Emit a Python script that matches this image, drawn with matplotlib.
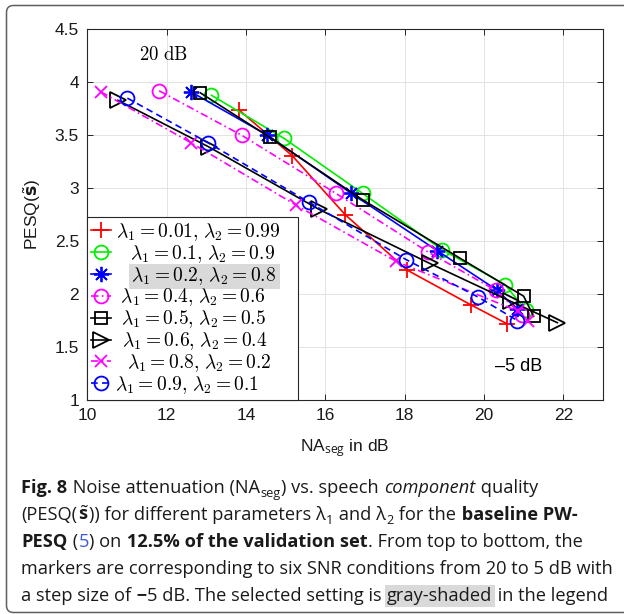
import matplotlib
matplotlib.use("Agg")
import matplotlib.pyplot as plt
from matplotlib.font_manager import FontProperties
from matplotlib.patches import FancyBboxPatch
from matplotlib.path import Path
from matplotlib.transforms import IdentityTransform

# ---------------- data ----------------
x_ticks = [10, 12, 14, 16, 18, 20, 22]
y_ticks = [1, 1.5, 2, 2.5, 3, 3.5, 4, 4.5]
y_tick_labels = ["1", "1.5", "2", "2.5", "3", "3.5", "4", "4.5"]

na_001 = [13.82, 15.17, 16.50, 18.07, 19.66, 20.58]
pesq_001 = [3.74, 3.305, 2.75, 2.225, 1.90, 1.72]
na_01 = [13.13, 14.96, 16.94, 18.94, 20.53, 21.05]
pesq_01 = [3.877, 3.47, 2.95, 2.42, 2.09, 1.85]
na_02 = [12.61, 14.54, 16.66, 18.82, 20.32, 20.83]
pesq_02 = [3.91, 3.50, 2.95, 2.41, 2.04, 1.86]
na_04 = [11.81, 13.89, 16.27, 18.58, 20.30, 20.97]
pesq_04 = [3.92, 3.50, 2.95, 2.40, 2.035, 1.80]
na_05 = [12.85, 14.60, 16.94, 19.39, 21.00, 21.25]
pesq_05 = [3.90, 3.48, 2.89, 2.34, 1.98, 1.79]
na_06 = [10.77, 13.06, 15.84, 18.63, 20.68, 21.85]
pesq_06 = [3.83, 3.39, 2.80, 2.29, 1.93, 1.73]
na_08 = [10.34, 12.61, 15.26, 17.78, 20.85, 21.12]
pesq_08 = [3.91, 3.43, 2.84, 2.31, 1.84, 1.75]
na_09 = [11.01, 13.04, 15.60, 18.04, 19.86, 20.84]
pesq_09 = [3.85, 3.43, 2.865, 2.325, 1.97, 1.75]

lambda1 = ["0.01", "0.1", "0.2", "0.4", "0.5", "0.6", "0.8", "0.9"]
lambda2 = ["0.99", "0.9", "0.8", "0.6", "0.5", "0.4", "0.2", "0.1"]
selected_index = 2

snr_top = r"$20\ \mathrm{dB}$"
snr_bottom = "\u20135 dB"

caption_lines = [
    [("Fig. 8", "b"), (" Noise attenuation (NA", "n"), ("seg", "sub"), (") vs. speech ", "n"),
     ("component", "i"), (" quality", "n")],
    [("(PESQ(", "n"), (r"$\tilde{\mathbf{s}}$", "n"), (")) for different parameters \u03bb", "n"),
     ("1", "sub"), (" and \u03bb", "n"), ("2", "sub"), (" for the", "n"), (" baseline PW-", "b")],
    [("PESQ", "b"), (" (", "n"), ("5", "link"), (") on", "n"), (" 12.5% of the validation set", "b"),
     (". From top to bottom, the", "n")],
    [("markers are corresponding to six SNR conditions from 20 to 5 dB with", "n")],
    [("a step size of", "n"), (" \u2212", "b"), ("5 dB. The selected setting is", "n"),
     (" ", "space"), ("gray-shaded", "shade"), (" in the legend", "n")],
]

# ---------------- style ----------------
plt.rcParams["font.family"] = ["Liberation Sans", "DejaVu Sans"]
plt.rcParams["mathtext.fontset"] = "custom"
plt.rcParams["mathtext.rm"] = "Open Sans"
plt.rcParams["mathtext.it"] = "Open Sans:italic"
plt.rcParams["mathtext.bf"] = "Open Sans:bold"

W, H, DPI = 624, 614, 100
fig = plt.figure(figsize=(W / DPI, H / DPI), dpi=DPI)
fig.patch.set_facecolor("white")


def fx(px):
    return px / W


def fy(py):
    return 1 - py / H


AX_L, AX_R, AX_T, AX_B = 87.3, 603.0, 29.3, 400.0
ax = fig.add_axes([fx(AX_L), fy(AX_B), fx(AX_R) - fx(AX_L), fy(AX_T) - fy(AX_B)])

dash = (4.0, 2.6)
dashdot = (4.5, 2.0, 1.0, 2.0)
asterisk = (8, 2, 0)
styles = [
    dict(color="#ff0000", marker="+", ms=11, ls="-"),
    dict(color="#00ee00", marker="o", ms=10, ls="-", mfc="none"),
    dict(color="#0000ff", marker=asterisk, ms=11, ls="-"),
    dict(color="#ff00ff", marker="o", ms=10, ls=(0, dashdot), mfc="none"),
    dict(color="#000000", marker="s", ms=8, ls="-", mfc="none"),
    dict(color="#000000", marker=">", ms=11, ls="-", mfc="none"),
    dict(color="#ff00ff", marker="x", ms=8, ls=(0, dashdot)),
    dict(color="#0000ff", marker="o", ms=10, ls=(0, dash), mfc="none"),
]
xs = [na_001, na_01, na_02, na_04, na_05, na_06, na_08, na_09]
ys = [pesq_001, pesq_01, pesq_02, pesq_04, pesq_05, pesq_06, pesq_08, pesq_09]

handles = []
for x, y, st in zip(xs, ys, styles):
    (ln,) = ax.plot(x, y, lw=1.2, mew=1.3, **st)
    handles.append(ln)

ax.set_xlim(10, 23)
ax.set_ylim(1, 4.5)
ax.set_xticks(x_ticks)
ax.set_yticks(y_ticks)
ax.set_yticklabels(y_tick_labels)
ax.grid(True, color="#e3e3e3", lw=0.7)
ax.set_axisbelow(True)
for sp in ax.spines.values():
    sp.set_color("#262626")
    sp.set_linewidth(0.8)
ax.tick_params(direction="in", top=True, right=True, length=4, width=0.7,
               color="#262626", labelsize=12.5, pad=6, labelcolor="#1a1a1a")

ax.set_xlabel(r"NA$_{\mathrm{seg}}$ in dB", fontsize=12.5, color="#1a1a1a")
ax.xaxis.set_label_coords(0.5, -(437 - AX_B) / (AX_B - AX_T))
ax.set_ylabel(r"PESQ($\tilde{\mathbf{s}}$)", fontsize=12.5, color="#1a1a1a",
              math_fontfamily="dejavusans")
ax.yaxis.set_label_coords((43 - AX_L) / (AX_R - AX_L), 0.5)

ax.text(11.30, 4.26, snr_top, fontsize=13.5, va="center", ha="left",
        math_fontfamily="cm")
ax.text(20.29, 1.32, snr_bottom, fontsize=13, va="center", ha="left")

# ---------------- legend ----------------
renderer = fig.canvas.get_renderer()
LEG_SIZE = 14
leg_fp = FontProperties(family="DejaVu Serif", size=LEG_SIZE, math_fontfamily="cm")


def tw(s, prop=leg_fp):
    w, h, d = renderer.get_text_width_height_descent(s, prop, ismath=True)
    return w


plain_labels = [r"\lambda_1 = %s{,}\ \lambda_2 = %s" % (a, b) for a, b in zip(lambda1, lambda2)]
unit_px = tw(r"$\hspace{1.0}x$") - tw(r"$x$")
indent_px = [1.6, 15.4, 16.5, 6.0, 6.6, 7.6, 12.0, 0.0]
labels = []
for lab, ind in zip(plain_labels, indent_px):
    lead = r"\hspace{%.3f}" % (ind / unit_px) if ind > 0 else ""
    labels.append(r"$%s%s$" % (lead, lab))

LEG_RIGHT_PX = 298.0
leg = ax.legend(handles, labels, loc="lower left",
                bbox_to_anchor=(0, 0, (LEG_RIGHT_PX - AX_L) / (AX_R - AX_L), 0.5),
                mode="expand", borderaxespad=0, prop=leg_fp, frameon=True,
                fancybox=False, framealpha=1, edgecolor="#262626", handlelength=1.0,
                handletextpad=0.25, labelspacing=0.0, borderpad=0.2,
                numpoints=1)
leg.get_frame().set_linewidth(0.8)

shade_shift = indent_px[selected_index] - 3.0


def shade_box(x0, y0, width, height, mutation_size):
    l = x0 + shade_shift
    r = x0 + width + 3
    b = y0 - 2.0
    t = y0 + height + 1.0
    return Path([(l, b), (r, b), (r, t), (l, t), (l, b)], closed=True)


leg.get_texts()[selected_index].set_bbox(dict(boxstyle=shade_box, facecolor="#d9d9d9",
                                              edgecolor="none"))

# ---------------- caption ----------------
CAP_FONT = ["Open Sans", "DejaVu Sans"]


def run_props(kind, size):
    p = dict(family=CAP_FONT, fontsize=size, color="#1a1a1a")
    if kind == "b":
        p["weight"] = "bold"
    elif kind == "i":
        p["style"] = "italic"
    elif kind == "sub":
        p["fontsize"] = size * 0.7
    elif kind == "link":
        p["color"] = "#3d5bd9"
    return p


def measure(text, props):
    t = fig.text(0, 0, text, **props)
    w = t.get_window_extent(renderer).width
    t.remove()
    return w


ref_size = 13.0
ref_w = sum(measure(t, run_props(k, ref_size)) for t, k in caption_lines[3])
cap_size = ref_size * (611 - 21) / ref_w
space_w = measure("a a", run_props("n", cap_size)) - measure("aa", run_props("n", cap_size))

cap_x0 = 21
cap_baselines = [493, 520, 547, 574, 601]
for line, base in zip(caption_lines, cap_baselines):
    x = cap_x0
    for text, kind in line:
        if kind == "space":
            x += space_w
            continue
        props = run_props(kind, cap_size)
        dy = 4.0 if kind == "sub" else 0.0
        t = fig.text(fx(x), fy(base + dy), text, ha="left", va="baseline", **props)
        bb = t.get_window_extent(renderer)
        if kind == "shade":
            t.set_bbox(dict(facecolor="#d9d9d9", edgecolor="none", pad=0.12, boxstyle="square"))
        x = bb.x1 + 0.5

# ---------------- outer frame ----------------
frame = FancyBboxPatch((6.5, 1.5), 700, 607, boxstyle="round,pad=0,rounding_size=7",
                       transform=IdentityTransform(), facecolor="none",
                       edgecolor="#606060", linewidth=1.1)
fig.patches.append(frame)

fig.savefig("out.png", dpi=DPI)
